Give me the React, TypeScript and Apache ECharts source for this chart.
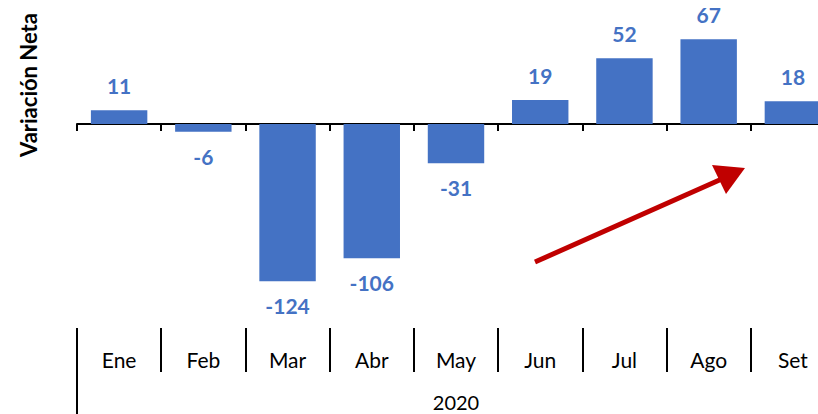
import React, { useEffect, useRef } from "react";
import * as echarts from "echarts";

const months = ["Ene", "Feb", "Mar", "Abr", "May", "Jun", "Jul", "Ago", "Set"];
const values = [11, -6, -124, -106, -31, 19, 52, 67, 18];
const years = ["2020"];
const yTitle = "Variación Neta";

const BLUE = "#4472C4";
const FONT = "Lato, 'Open Sans', sans-serif";

export default function App() {
  const ref = useRef<HTMLDivElement>(null);
  useEffect(() => {
    if (!ref.current) return;
    const chart = echarts.init(ref.current, undefined, { renderer: "svg" });
    chart.setOption({
      animation: false,
      backgroundColor: "#fff",
      textStyle: { fontFamily: FONT },
      grid: { left: 77, top: 0, width: 758, bottom: 86, outerBoundsMode: "none" },
      xAxis: [
        {
          type: "category",
          data: months,
          position: "bottom",
          axisLine: { onZero: true, lineStyle: { color: "#000", width: 2 } },
          axisTick: { show: true, length: 7, lineStyle: { color: "#000", width: 2 } },
          axisLabel: { show: false },
          splitLine: { show: false },
        },
        {
          type: "category",
          data: months,
          position: "bottom",
          offset: 0,
          axisLine: { show: false, onZero: false },
          axisTick: { show: true, length: 44, lineStyle: { color: "#000", width: 2 } },
          axisLabel: { interval: 0, margin: 21, fontSize: 21, color: "#000", fontFamily: FONT },
        },
        {
          type: "category",
          data: years,
          position: "bottom",
          offset: 44,
          axisLine: { show: false, onZero: false },
          axisTick: { show: true, length: 42, lineStyle: { color: "#000", width: 2 } },
          axisLabel: { interval: 0, margin: 20, fontSize: 20, color: "#000", fontFamily: FONT },
        },
      ],
      yAxis: { type: "value", min: -161, max: 98, show: false },
      series: [
        {
          type: "bar",
          data: values,
          xAxisIndex: 0,
          barCategoryGap: "33%",
          itemStyle: { color: BLUE },
          label: {
            show: true,
            position: "outside",
            distance: 14,
            fontSize: 21,
            fontWeight: "bold",
            color: BLUE,
            fontFamily: FONT,
          },
        },
      ],
      graphic: [
        {
          type: "text",
          x: 28,
          y: 85,
          rotation: Math.PI / 2,
          style: {
            text: yTitle,
            fontSize: 22,
            fontWeight: "bold",
            fontFamily: FONT,
            fill: "#000",
            align: "center",
            verticalAlign: "middle",
          },
        },
        {
          type: "line",
          shape: { x1: 535, y1: 262, x2: 724, y2: 178 },
          style: { stroke: "#C00000", lineWidth: 5 },
        },
        {
          type: "polygon",
          shape: { points: [[745, 168], [712, 165], [726, 194]] },
          style: { fill: "#C00000" },
        },
      ],
    });
    return () => chart.dispose();
  }, []);
  return (
    <div
      ref={ref}
      style={{ position: "fixed", left: 0, top: 0, width: 818, height: 414 }}
    />
  );
}
